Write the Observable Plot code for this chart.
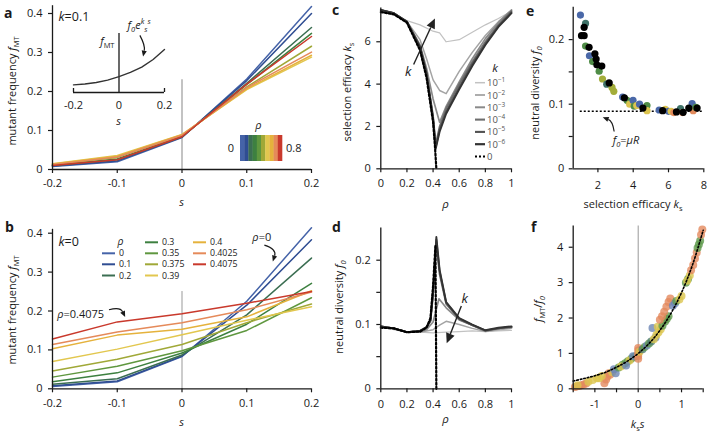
<!DOCTYPE html>
<html><head><meta charset="utf-8">
<script src="https://cdn.jsdelivr.net/npm/d3@7"></script>
<script src="https://cdn.jsdelivr.net/npm/@observablehq/plot@0.6"></script>
<style>
body{margin:0;background:#fff;}
#wrap{position:relative;width:708px;height:434px;overflow:hidden;font-family:"Open Sans",sans-serif;}
#wrap svg{position:absolute;overflow:visible;}
</style></head><body><div id="wrap"></div>
<script>
// ---------------- DATA ----------------
const sGrid = [-0.2, -0.1, 0, 0.1, 0.2];
const sTicks = [-0.2, -0.1, 0, 0.1, 0.2];
// panel a (k = 0.1)
const rhoA = [0, 0.1, 0.2, 0.3, 0.4, 0.5, 0.6, 0.7, 0.8];
const fmtA = [
  [0.008, 0.020, 0.082, 0.232, 0.418],
  [0.009, 0.022, 0.083, 0.228, 0.400],
  [0.010, 0.025, 0.084, 0.221, 0.364],
  [0.011, 0.027, 0.085, 0.218, 0.349],
  [0.013, 0.031, 0.087, 0.212, 0.316],
  [0.015, 0.036, 0.090, 0.205, 0.288],
  [0.014, 0.034, 0.089, 0.207, 0.293],
  [0.013, 0.032, 0.088, 0.210, 0.301],
  [0.010, 0.025, 0.084, 0.219, 0.341]
];
// inset sketch f0 e^{ks s}
const insetS = [-0.2, -0.15, -0.1, -0.05, 0, 0.05, 0.1, 0.15, 0.2];
const insetF = [0.13, 0.145, 0.17, 0.21, 0.27, 0.34, 0.43, 0.56, 0.73];
// panel b (k = 0)
const rhoB = [0, 0.1, 0.2, 0.3, 0.35, 0.375, 0.39, 0.4, 0.4025, 0.4075];
const fmtB = [
  [0.006, 0.018, 0.083, 0.225, 0.414],
  [0.008, 0.020, 0.084, 0.215, 0.383],
  [0.012, 0.026, 0.087, 0.190, 0.336],
  [0.018, 0.041, 0.092, 0.166, 0.271],
  [0.030, 0.058, 0.098, 0.150, 0.234],
  [0.046, 0.076, 0.114, 0.170, 0.218],
  [0.070, 0.102, 0.139, 0.176, 0.211],
  [0.103, 0.138, 0.153, 0.185, 0.252],
  [0.114, 0.146, 0.170, 0.203, 0.249],
  [0.128, 0.172, 0.193, 0.220, 0.250]
];
// panels c and d : k values
const kLabels = ["−1", "−2", "−3", "−4", "−5", "−6"];
const ksRho = [
  [0, 0.1, 0.2, 0.3, 0.4, 0.45, 0.5, 0.6, 0.7, 0.8, 0.9, 1],
  [0, 0.1, 0.2, 0.3, 0.35, 0.4, 0.45, 0.5, 0.6, 0.7, 0.8, 0.9, 1],
  [0, 0.1, 0.2, 0.3, 0.35, 0.4, 0.45, 0.5, 0.6, 0.7, 0.8, 0.9, 1],
  [0, 0.1, 0.2, 0.3, 0.35, 0.4, 0.42, 0.45, 0.5, 0.6, 0.7, 0.8, 0.9, 1],
  [0, 0.1, 0.2, 0.3, 0.35, 0.4, 0.42, 0.45, 0.5, 0.6, 0.7, 0.8, 0.9, 1],
  [0, 0.1, 0.2, 0.3, 0.35, 0.4, 0.42, 0.45, 0.5, 0.6, 0.7, 0.8, 0.9, 1]
];
const ksVal = [
  [7.45, 7.25, 7.0, 6.8, 6.5, 6.42, 6.0, 6.1, 6.45, 6.8, 7.1, 7.45],
  [7.45, 7.3, 6.95, 6.1, 5.2, 4.2, 3.7, 3.55, 4.6, 5.5, 6.3, 6.95, 7.5],
  [7.5, 7.35, 6.95, 5.85, 4.75, 3.3, 2.2, 2.95, 4.1, 5.2, 6.15, 6.9, 7.5],
  [7.5, 7.35, 6.95, 5.8, 4.55, 2.5, 1.15, 2.0, 2.85, 4.0, 5.05, 6.0, 6.8, 7.45],
  [7.5, 7.35, 6.95, 5.75, 4.5, 2.4, 1.0, 1.85, 2.7, 3.85, 4.95, 5.9, 6.75, 7.4],
  [7.5, 7.35, 6.95, 5.75, 4.5, 2.35, 0.95, 1.75, 2.6, 3.75, 4.85, 5.85, 6.7, 7.35]
];
const ksRho0 = [0, 0.1, 0.2, 0.3, 0.35, 0.4, 0.415, 0.425];
const ksVal0 = [7.4, 7.3, 6.9, 5.6, 4.3, 2.2, 1.0, 0];
const f0Rho = [
  [0, 0.1, 0.2, 0.3, 0.4, 0.5, 0.6, 0.7, 0.8, 0.9, 1],
  [0, 0.1, 0.2, 0.3, 0.4, 0.45, 0.5, 0.6, 0.7, 0.8, 0.9, 1],
  [0, 0.1, 0.2, 0.3, 0.35, 0.4, 0.445, 0.5, 0.6, 0.7, 0.8, 0.9, 1],
  [0, 0.1, 0.2, 0.3, 0.35, 0.38, 0.4, 0.425, 0.45, 0.5, 0.6, 0.7, 0.8, 0.9, 1],
  [0, 0.1, 0.2, 0.3, 0.35, 0.38, 0.4, 0.425, 0.45, 0.5, 0.6, 0.7, 0.8, 0.9, 1],
  [0, 0.1, 0.2, 0.3, 0.35, 0.38, 0.4, 0.425, 0.45, 0.5, 0.6, 0.7, 0.8, 0.9, 1]
];
const f0Val = [
  [0.096, 0.092, 0.088, 0.088, 0.087, 0.088, 0.089, 0.090, 0.089, 0.090, 0.091],
  [0.096, 0.093, 0.088, 0.088, 0.092, 0.099, 0.105, 0.100, 0.094, 0.089, 0.092, 0.094],
  [0.097, 0.094, 0.088, 0.089, 0.092, 0.104, 0.140, 0.126, 0.107, 0.099, 0.090, 0.094, 0.096],
  [0.097, 0.094, 0.088, 0.090, 0.095, 0.105, 0.145, 0.225, 0.178, 0.132, 0.108, 0.099, 0.090, 0.094, 0.096],
  [0.097, 0.094, 0.088, 0.090, 0.096, 0.106, 0.150, 0.232, 0.183, 0.134, 0.109, 0.099, 0.091, 0.094, 0.096],
  [0.097, 0.094, 0.088, 0.090, 0.096, 0.107, 0.152, 0.236, 0.185, 0.135, 0.110, 0.100, 0.091, 0.095, 0.097]
];
const f0Rho0 = [0, 0.1, 0.2, 0.3, 0.35, 0.38, 0.4, 0.418, 0.425];
const f0Val0 = [0.095, 0.094, 0.088, 0.089, 0.095, 0.110, 0.160, 0.223, 0];
// panel e
const eKs = [1.01,1.07,1.22,1.22,1.30,1.30,1.50,1.52,1.70,1.83,1.90,1.94,2.07,2.22,2.26,2.50,2.64,2.80,2.90,3.40,3.50,3.65,3.80,3.99,4.06,4.20,4.36,4.55,4.78,4.78,5.47,5.67,5.82,6.00,6.15,6.30,6.45,6.68,6.80,6.83,7.15,7.34,7.40,7.55,7.62];
const eF0 = [0.238,0.206,0.206,0.219,0.225,0.190,0.188,0.175,0.166,0.178,0.170,0.161,0.151,0.159,0.139,0.131,0.133,0.126,0.120,0.111,0.110,0.106,0.100,0.106,0.097,0.098,0.100,0.094,0.098,0.090,0.091,0.090,0.092,0.089,0.089,0.087,0.088,0.093,0.087,0.0875,0.094,0.101,0.090,0.095,0.094];
const eGrp = ["b","k","k","k","t","g","k","b","g","k","k","k","g","k","l","t","k","l","l","b","k","g","y","b","g","y","b","k","g","y","b","k","y","b","y","o","k","t","o","k","k","b","o","g","k"];
const f0mu = 0.089;
// panel f
const fX = [-1.46,-1.41,-1.36,-1.31,-1.26,-1.2, -1.4,-1.15,-1.05,-0.95, -0.78,-0.74,-0.71,-0.68,-0.65, -0.9,-0.84,-0.6, -0.52,-0.56, -0.45,-0.36,-0.3,-0.24,-0.16,-0.1,-0.05, -0.4,-0.2, -0.12,-0.28, 0,0,0,0,0, 0.03, 0.1,0.15,0.2,0.25,0.3, 0.33,0.4, 0.36,0.42,0.47,0.52,0.45, 0.56,0.62,0.66,0.7, 0.5,0.55,0.6,0.65,0.7,0.74, 0.8,0.85, 0.88, 0.95,1.0, 1.1,1.15, 1.13,1.19, 1.22,1.27,1.31,1.35, 1.37,1.4,1.43, 1.45,1.48];
const fY = [0.05,0.07,0.08,0.1,0.12,0.15, 0.1,0.2,0.25,0.3, 0.16,0.26,0.35,0.44,0.4, 0.3,0.36,0.47, 0.44,0.55, 0.6,0.68,0.72,0.78,0.85,0.9,0.93, 0.63,0.8, 0.92,0.66, 0.85,0.93,1.0,1.08,1.15, 1.05, 1.12,1.18,1.22,1.28,1.34, 1.72,1.45, 1.4,1.52,1.6,1.68,1.75, 1.78,1.9,1.97,2.05, 1.95,2.05,2.18,2.32,2.45,2.55, 2.35,2.42, 2.48, 2.52,2.62, 3.0,3.1, 3.05,3.2, 3.35,3.5,3.68,3.85, 3.98,4.08,4.18, 4.35,4.5];
const fG = ["o","o","o","o","o","o", "y","y","y","y", "o","o","o","o","o", "y","y","y", "b","b", "g","g","g","g","g","g","g", "y","y", "b","b", "o","o","o","o","o", "y", "t","g","b","g","t", "b","b", "y","y","y","y","y", "g","g","g","g", "o","o","o","o","o","o", "b","b", "g", "y","y", "g","g", "y","y", "o","o","o","o", "g","g","g", "o","o"];
const fitX = [-1.5,-1.25,-1,-0.75,-0.5,-0.25,0,0.25,0.5,0.75,1,1.25,1.5];
const fitY = [0.22,0.29,0.37,0.47,0.61,0.78,1,1.28,1.65,2.12,2.72,3.49,4.48];

// ---------------- STYLES ----------------
const ink = "#1a1a1a";
const FONT = "'Open Sans', sans-serif";
const palette = ["#4563a8","#2f4d92","#3b6e52","#3d8040","#5f973f","#a0a837","#e2c74f","#e5b23c","#e58a5a","#c9392c"];
const colorA = ["#4563a8","#2f4d92","#3b6e52","#3d8040","#a0a837","#e2c74f","#e5b23c","#e58a5a","#c9392c"];
const colorB = palette;
const grays = ["#c2c2c2","#a4a4a4","#8a8a8a","#6e6e6e","#525252","#333333"];
const grayW = [1.2, 1.5, 1.7, 1.8, 1.8, 1.9];
const grpColor = {b:"#4a68a8", t:"#3f7268", g:"#4f8c46", l:"#a3ad3a", y:"#dcc450", o:"#e28a5c", k:"#000000"};
const fColor = {o:"#e38a5e", y:"#dcc64f", g:"#5f9a4c", t:"#4d7d70", b:"#6d86b5"};
const baseStyle = {fontFamily: FONT, fontSize: "11px", color: ink, background: "transparent", overflow: "visible"};
const wrap = document.getElementById("wrap");

function put(svg, left, top) { svg.style.position = "absolute"; svg.style.left = left + "px"; svg.style.top = top + "px"; wrap.appendChild(svg); return svg; }
function axX(ticks, fmt, pad = 6) { return Plot.axisX({ticks, tickFormat: fmt || (d => String(d)), tickSize: 4, tickPadding: pad, label: null, strokeWidth: 1.2}); }
function axY(ticks, fmt, pad = 6) { return Plot.axisY({ticks, tickFormat: fmt || (d => String(d)), tickSize: 4, tickPadding: pad, label: null, strokeWidth: 1.2}); }
function frameLines(x0, x1, yTop) {
  return [
    Plot.ruleY([0], {x1: x0, x2: x1, stroke: ink, strokeWidth: 1.3}),
    Plot.ruleX([x0], {y1: 0, y2: yTop, stroke: ink, strokeWidth: 1.3})
  ];
}
function rich(svg, x, y, parts, o = {}) {
  const size = o.size || 11;
  const t = d3.select(svg).append("text").attr("x", x).attr("y", y)
    .attr("font-family", FONT).attr("font-size", size).attr("fill", o.fill || ink)
    .attr("text-anchor", o.anchor || "start");
  if (o.rotate) t.attr("transform", `rotate(${o.rotate},${x},${y})`);
  if (o.weight) t.attr("font-weight", o.weight);
  for (const [s, st = ""] of parts) {
    const ts = t.append("tspan").text(s);
    if (st.startsWith("i")) ts.attr("font-style", "italic");
    if (st.endsWith("sub")) ts.attr("baseline-shift", -0.28 * size).attr("font-size", 0.68 * size);
    if (st.endsWith("sup")) ts.attr("baseline-shift", 0.42 * size).attr("font-size", 0.68 * size);
  }
  return t;
}
// annotation arrow with filled head, positioned through the plot's scales
function arrow(plot, x1, y1, x2, y2, o = {}) {
  const X = plot.scale("x").apply, Y = plot.scale("y").apply;
  const p1 = [X(x1), Y(y1)], p2 = [X(x2), Y(y2)];
  const dx = p2[0] - p1[0], dy = p2[1] - p1[1], L = Math.hypot(dx, dy);
  const off = (L / 2) * Math.tan((o.bend || 0) * Math.PI / 180);
  const c = [(p1[0] + p2[0]) / 2 - dy / L * off, (p1[1] + p2[1]) / 2 + dx / L * off];
  const tx = p2[0] - c[0], ty = p2[1] - c[1], tl = Math.hypot(tx, ty), ux = tx / tl, uy = ty / tl;
  const h = o.head || 7, w = o.wing || 3;
  const b = [p2[0] - ux * h, p2[1] - uy * h];
  const g = d3.select(plot).append("g");
  g.append("path").attr("d", `M${p1}Q${c} ${b}`).attr("fill", "none").attr("stroke", o.stroke || ink).attr("stroke-width", o.width || 1.2);
  g.append("path").attr("d", `M${p2}L${b[0] - uy * w},${b[1] + ux * w}L${b[0] + uy * w},${b[1] - ux * w}Z`).attr("fill", o.stroke || ink);
}
function table(xs, ys, extra = {}) { return xs.map((x, i) => ({x, y: ys[i], ...extra})); }

// ---------------- PANEL A ----------------
const dataA = rhoA.flatMap((r, i) => sGrid.map((s, j) => ({s, f: fmtA[i][j], rho: r})));
const pA = Plot.plot({
  width: 320, height: 215, marginLeft: 52, marginRight: 9, marginTop: 13, marginBottom: 46,
  style: baseStyle, x: {domain: [-0.2, 0.2]}, y: {domain: [0, 0.4]},
  color: {type: "ordinal", domain: rhoA, range: colorA},
  marks: [
    Plot.ruleX([0], {y1: 0, y2: 0.23, stroke: "#b4b4b4", strokeWidth: 1.6}),
    Plot.line(dataA, {x: "s", y: "f", z: "rho", stroke: "rho", strokeWidth: 1.5}),
    axX(sTicks), axY([0, 0.1, 0.2, 0.3, 0.4]),
    ...frameLines(-0.2, 0.2, 0.42)
  ]
});
put(pA, 0, 0);
{
  const X = pA.scale("x").apply, Y = pA.scale("y").apply;
  rich(pA, 16, 91, [["mutant frequency "], ["f", "i"], ["MT", "sub"]], {rotate: -90, anchor: "middle", size: 11});
  rich(pA, X(0), 206, [["s", "i"]], {anchor: "middle", size: 11});
  rich(pA, X(-0.19), Y(0.38), [["k", "i"], ["=0.1"]], {size: 12.5});
  // colour bar legend
  const g = d3.select(pA).append("g");
  const cbx = 240, cbw = 42, n = palette.length;
  palette.forEach((c, i) => g.append("rect").attr("x", cbx + i * cbw / n).attr("y", 135).attr("width", cbw / n + 0.3).attr("height", 26).attr("fill", c));
  rich(pA, 258.5, 129, [["ρ", "i"]], {anchor: "middle", size: 11});
  rich(pA, 234, 152, [["0"]], {anchor: "end", size: 11});
  rich(pA, 286, 152, [["0.8"]], {size: 11});
}

// inset
const pI = Plot.plot({
  width: 120, height: 100, marginLeft: 13, marginRight: 16, marginTop: 8, marginBottom: 33,
  style: baseStyle, x: {domain: [-0.2, 0.2]}, y: {domain: [0, 1], axis: null},
  marks: [
    Plot.ruleY([0], {x1: -0.2, x2: 0.2, stroke: ink, strokeWidth: 1.3}),
    Plot.ruleX([-0.2, 0.2], {y1: 0, y2: 0, insetTop: -4, stroke: ink, strokeWidth: 1.3}),
    Plot.ruleX([0], {y1: 0, y2: 1, stroke: ink, strokeWidth: 1.3}),
    Plot.line(table(insetS, insetF), {x: "x", y: "y", stroke: "#333", strokeWidth: 1.4}),
    Plot.axisX({ticks: [-0.2, 0, 0.2], tickFormat: d => String(d), tickSize: 0, tickPadding: 9, label: null})
  ]
});
put(pI, 60, 25);
{
  const X = pI.scale("x").apply, Y = pI.scale("y").apply;
  rich(pI, X(0), 100, [["s", "i"]], {anchor: "middle", size: 11});
  rich(pI, X(0) - 4, Y(0.8), [["f", "i"], ["MT", "sub"]], {anchor: "end", size: 11});
  rich(pI, X(0.04), Y(1.07), [["f", "i"], ["0", "isub"], ["e", "i"], ["k", "isup"], ["s", "isub"], ["s", "isup"]], {size: 11});
  arrow(pI, 0.094, 0.96, 0.108, 0.6, {bend: -20, head: 6, wing: 2.6});
}

// ---------------- PANEL B ----------------
const dataB = rhoB.flatMap((r, i) => sGrid.map((s, j) => ({s, f: fmtB[i][j], rho: r})));
const pB = Plot.plot({
  width: 320, height: 219, marginLeft: 52, marginRight: 9, marginTop: 17.7, marginBottom: 45.7,
  style: baseStyle, x: {domain: [-0.2, 0.2]}, y: {domain: [0, 0.4]},
  color: {type: "ordinal", domain: rhoB, range: colorB},
  marks: [
    Plot.ruleX([0], {y1: 0, y2: 0.25, stroke: "#999", strokeWidth: 1}),
    Plot.line(dataB, {x: "s", y: "f", z: "rho", stroke: "rho", strokeWidth: 1.5}),
    axX(sTicks), axY([0, 0.1, 0.2, 0.3, 0.4]),
    ...frameLines(-0.2, 0.2, 0.41)
  ]
});
put(pB, 0, 215);
{
  const X = pB.scale("x").apply, Y = pB.scale("y").apply;
  rich(pB, 16, 95, [["mutant frequency "], ["f", "i"], ["MT", "sub"]], {rotate: -90, anchor: "middle", size: 11});
  rich(pB, X(0), 211, [["s", "i"]], {anchor: "middle", size: 11});
  rich(pB, X(-0.19), Y(0.366), [["k", "i"], ["=0"]], {size: 12.5});
  rich(pB, X(-0.192), Y(0.19) + 4, [["ρ", "i"], ["=0.4075"]], {size: 11});
  rich(pB, X(0.124), Y(0.389) + 4, [["ρ", "i"], ["=0"]], {anchor: "middle", size: 11});
  arrow(pB, -0.112, 0.202, -0.087, 0.183, {bend: -40, head: 6, wing: 2.6});
  arrow(pB, 0.128, 0.368, 0.141, 0.326, {bend: -45, head: 6, wing: 2.6});
  // legend
  const cols = [102, 145, 193], rows = [27.3, 38.3, 49.3, 60.5];
  const slots = [[0,1],[0,2],[0,3],[1,0],[1,1],[1,2],[1,3],[2,0],[2,1],[2,2]];
  const g = d3.select(pB).append("g");
  rich(pB, 120.5, rows[0] + 2.5, [["ρ", "i"]], {anchor: "middle", size: 10.5});
  rhoB.forEach((r, i) => {
    const [c, rw] = slots[i];
    g.append("line").attr("x1", cols[c]).attr("x2", cols[c] + 13).attr("y1", rows[rw]).attr("y2", rows[rw]).attr("stroke", colorB[i]).attr("stroke-width", 2);
    rich(pB, cols[c] + 17, rows[rw] + 3, [[String(r)]], {size: 8.8});
  });
}

// ---------------- PANEL C ----------------
const pC = Plot.plot({
  width: 200, height: 215, marginLeft: 60.3, marginRight: 9, marginTop: 7.4, marginBottom: 46.7,
  style: baseStyle, x: {domain: [0, 1]}, y: {domain: [0, 7.6]},
  marks: [
    ...ksRho.map((rs, i) => Plot.line(table(rs, ksVal[i]), {x: "x", y: "y", stroke: grays[i], strokeWidth: grayW[i], strokeLinejoin: "round"})),
    Plot.line(table(ksRho0, ksVal0), {x: "x", y: "y", stroke: "#000", strokeWidth: 2.2, strokeDasharray: "2,2"}),
    axX([0, 0.2, 0.4, 0.6, 0.8, 1]), axY([0, 2, 4, 6]),
    ...frameLines(0, 1, 7.6)
  ]
});
put(pC, 320, 0);
{
  const X = pC.scale("x").apply, Y = pC.scale("y").apply;
  rich(pC, 30.5, 92, [["selection efficacy "], ["k", "i"], ["s", "sub"]], {rotate: -90, anchor: "middle", size: 11});
  rich(pC, X(0.5), 208, [["ρ", "i"]], {anchor: "middle", size: 11.5});
  rich(pC, X(0.213), Y(4.55) + 4.5, [["k", "i"]], {anchor: "middle", size: 13});
  arrow(pC, 0.255, 4.9, 0.418, 7.08, {head: 10, wing: 4.5, width: 1.4, stroke: "#222"});
  // legend
  const g = d3.select(pC).append("g");
  rich(pC, 175, 72, [["k", "i"]], {anchor: "middle", size: 11.5});
  kLabels.forEach((lab, i) => {
    const y = 82.7 + i * 12.3;
    g.append("line").attr("x1", 155).attr("x2", 165).attr("y1", y).attr("y2", y).attr("stroke", grays[i]).attr("stroke-width", grayW[i] + 0.3);
    rich(pC, 167, y + 3.5, [["10"], [lab, "sup"]], {size: 9.5, fill: "#555"});
  });
  const y0 = 82.7 + 6 * 12.3;
  g.append("line").attr("x1", 155).attr("x2", 165).attr("y1", y0).attr("y2", y0).attr("stroke", "#000").attr("stroke-width", 2.2).attr("stroke-dasharray", "2,2");
  rich(pC, 167, y0 + 3.5, [["0"]], {size: 9.5, fill: "#555"});
}

// ---------------- PANEL D ----------------
const pD = Plot.plot({
  width: 200, height: 219, marginLeft: 60.3, marginRight: 9, marginTop: 12.55, marginBottom: 45.7,
  style: baseStyle, x: {domain: [0, 1]}, y: {domain: [0, 0.25]},
  marks: [
    ...f0Rho.map((rs, i) => Plot.line(table(rs, f0Val[i]), {x: "x", y: "y", stroke: grays[i], strokeWidth: grayW[i], strokeLinejoin: "round"})),
    Plot.line(table(f0Rho0, f0Val0), {x: "x", y: "y", stroke: "#000", strokeWidth: 2.2, strokeDasharray: "2,2"}),
    axX([0, 0.2, 0.4, 0.6, 0.8, 1], null, 7),
    axY([0, 0.05, 0.1, 0.15, 0.2], d => ([0, 0.1, 0.2].includes(d) ? String(d) : "")),
    ...frameLines(0, 1, 0.25)
  ]
});
put(pD, 320, 215);
{
  const X = pD.scale("x").apply, Y = pD.scale("y").apply;
  rich(pD, 23, 92, [["neutral diversity "], ["f", "i"], ["0", "isub"]], {rotate: -90, anchor: "middle", size: 11});
  rich(pD, X(0.5), 208, [["ρ", "i"]], {anchor: "middle", size: 11.5});
  rich(pD, X(0.645), Y(0.14) + 4.5, [["k", "i"]], {anchor: "middle", size: 13});
  arrow(pD, 0.62, 0.128, 0.508, 0.07, {head: 10, wing: 4.5, width: 1.4, stroke: "#222"});
}

// ---------------- PANEL E ----------------
const dataE = eKs.map((k, i) => ({ks: k, f0: eF0[i], g: eGrp[i]}));
const eOrder = [...dataE.filter(d => d.g !== "k"), ...dataE.filter(d => d.g === "k")];
const pE = Plot.plot({
  width: 188, height: 215, marginLeft: 52.7, marginRight: 4.7, marginTop: 6.8, marginBottom: 46.7,
  style: baseStyle, x: {domain: [0.6, 8]}, y: {domain: [0, 0.25]},
  marks: [
    Plot.ruleY([f0mu], {x1: 1.0, x2: 8.0, stroke: "#000", strokeWidth: 1.6, strokeDasharray: "2,2"}),
    Plot.dot(eOrder, {x: "ks", y: "f0", r: 3.6, fill: d => grpColor[d.g], stroke: "none"}),
    axX([2, 4, 6, 8], null, 8),
    axY([0, 0.05, 0.1, 0.15, 0.2], d => ([0, 0.1, 0.2].includes(d) ? String(d) : ""), 5),
    ...frameLines(0.6, 8, 0.25)
  ]
});
put(pE, 520, 0);
{
  const X = pE.scale("x").apply, Y = pE.scale("y").apply;
  rich(pE, 18.5, 93, [["neutral diversity "], ["f", "i"], ["0", "isub"]], {rotate: -90, anchor: "middle", size: 11});
  rich(pE, 113, 208, [["selection efficacy "], ["k", "i"], ["s", "sub"]], {anchor: "middle", size: 11});
  rich(pE, X(2.87), Y(0.044) + 4, [["f", "i"], ["0", "isub"], ["="], ["μR", "i"]], {size: 11});
  arrow(pE, 2.95, 0.057, 2.3, 0.079, {bend: 30, head: 6, wing: 2.6});
}

// ---------------- PANEL F ----------------
const dataF = fX.map((x, i) => ({x, y: fY[i], g: fG[i]}));
const pF = Plot.plot({
  width: 188, height: 219, marginLeft: 52.7, marginRight: 5.3, marginTop: 10.5, marginBottom: 45.7,
  style: baseStyle, x: {domain: [-1.5, 1.5]}, y: {domain: [0, 4.6]},
  marks: [
    Plot.ruleX([0], {y1: 0, y2: 4.6, stroke: "#999", strokeWidth: 1}),
    Plot.dot(dataF, {x: "x", y: "y", r: 4, fill: d => fColor[d.g], fillOpacity: 0.8, stroke: "none"}),
    Plot.line(table(fitX, fitY), {x: "x", y: "y", stroke: "#000", strokeWidth: 1.6, strokeDasharray: "1.6,2", curve: "catmull-rom"}),
    axX([-1.5, -1, -0.5, 0, 0.5, 1, 1.5], d => ([-1, 0, 1].includes(d) ? String(d) : ""), 7),
    axY([0, 1, 2, 3, 4]),
    ...frameLines(-1.5, 1.5, 4.6)
  ]
});
put(pF, 520, 215);
{
  rich(pF, 22, 94, [["f", "i"], ["MT", "sub"], ["/"], ["f", "i"], ["0", "isub"]], {rotate: -90, anchor: "middle", size: 11});
  rich(pF, pF.scale("x").apply(0), 213, [["k", "i"], ["s", "sub"], ["s", "i"]], {anchor: "middle", size: 11});
}

// ---------------- PANEL LETTERS ----------------
const ov = d3.select(wrap).append("svg").attr("width", 708).attr("height", 434).style("left", "0px").style("top", "0px").style("pointer-events", "none").node();
[["a", 4, 18], ["b", 5, 232], ["c", 332, 15], ["d", 332, 232], ["e", 526, 16], ["f", 531, 232]]
  .forEach(([l, x, y]) => rich(ov, x, y, [[l]], {size: 14, weight: "bold"}));
</script></body></html>
